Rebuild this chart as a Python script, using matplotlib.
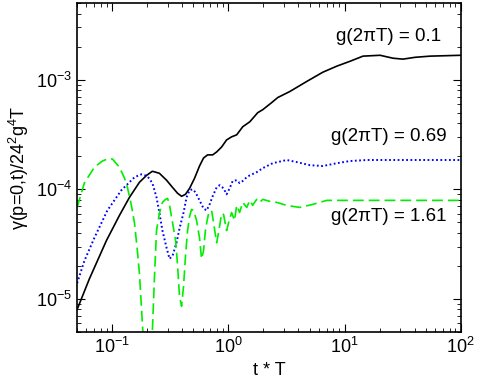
import numpy as np
import matplotlib
matplotlib.use('Agg')
import matplotlib.pyplot as plt

plt.rcParams['font.family'] = ['Liberation Sans', 'DejaVu Sans']
plt.rcParams['mathtext.fontset'] = 'custom'
plt.rcParams['mathtext.rm'] = 'Liberation Sans'
plt.rcParams['mathtext.it'] = 'Liberation Sans'
plt.rcParams['font.size'] = 13

# g(2 pi T) = 0.1  (solid black)
t_a = [0.05, 0.0637, 0.0893, 0.1156, 0.141, 0.172, 0.198, 0.222, 0.255, 0.294,
       0.331, 0.366, 0.396, 0.428, 0.464, 0.512, 0.565, 0.612, 0.663, 0.733,
       0.793, 0.875, 0.966, 1.067, 1.18, 1.33, 1.53, 1.79, 1.98, 2.36,
       2.66, 3.38, 4.73, 6.50, 8.59, 11.1, 14.4, 20.2, 26.1, 31.8,
       40.4, 54.4, 100]
g_a = [8.0e-6, 1.52e-5, 3.40e-5, 5.77e-5, 8.44e-5, 1.16e-4, 1.34e-4, 1.46e-4, 1.40e-4, 1.21e-4,
       1.04e-4, 9.19e-5, 8.63e-5, 9.0e-5, 1.02e-4, 1.26e-4, 1.63e-4, 1.93e-4, 2.06e-4, 2.06e-4,
       2.19e-4, 2.43e-4, 2.82e-4, 3.01e-4, 3.14e-4, 3.72e-4, 4.13e-4, 5.00e-4, 5.33e-4, 6.18e-4,
       6.87e-4, 7.80e-4, 9.64e-4, 1.17e-3, 1.33e-3, 1.47e-3, 1.64e-3, 1.67e-3, 1.57e-3, 1.54e-3,
       1.60e-3, 1.64e-3, 1.67e-3]

# g(2 pi T) = 0.69  (dotted blue)
t_b = [0.05, 0.0577, 0.0704, 0.0910, 0.120, 0.156, 0.179, 0.201, 0.222, 0.241,
       0.255, 0.271, 0.294, 0.312, 0.331, 0.358, 0.380, 0.412, 0.437, 0.464,
       0.492, 0.522, 0.565, 0.612, 0.650, 0.690, 0.733, 0.793, 0.842, 0.910,
       0.966, 1.026, 1.09, 1.18, 1.25, 1.33, 1.44, 1.53, 1.75, 1.98,
       2.41, 3.18, 3.88, 5.02, 6.50, 8.59, 11.1, 15.6, 30.0, 100]
g_b = [1.39e-5, 2.22e-5, 3.61e-5, 6.41e-5, 9.79e-5, 1.29e-4, 1.37e-4, 1.32e-4, 1.14e-4, 8.44e-5,
       6.14e-5, 4.20e-5, 2.93e-5, 2.32e-5, 2.47e-5, 3.25e-5, 4.38e-5, 6.14e-5, 8.44e-5, 9.79e-5,
       1.0e-4, 9.38e-5, 7.92e-5, 6.68e-5, 6.41e-5, 7.28e-5, 8.63e-5, 1.04e-4, 1.09e-4, 1.02e-4,
       9.0e-5, 1.02e-4, 1.19e-4, 1.21e-4, 1.14e-4, 1.19e-4, 1.29e-4, 1.34e-4, 1.43e-4, 1.56e-4,
       1.73e-4, 1.85e-4, 1.77e-4, 1.66e-4, 1.63e-4, 1.73e-4, 1.81e-4, 1.85e-4, 1.85e-4, 1.85e-4]

# g(2 pi T) = 1.61  (dashed green)
t_c = [0.05, 0.0577, 0.0704, 0.0825, 0.0910, 0.1006, 0.1156, 0.128, 0.1355, 0.1466,
       0.156, 0.165, 0.172, 0.179, 0.186, 0.200, 0.214, 0.222, 0.232, 0.241,
       0.255, 0.271, 0.288, 0.300, 0.312, 0.331, 0.352, 0.366, 0.380, 0.396,
       0.412, 0.428, 0.446, 0.464, 0.482, 0.502, 0.533, 0.565, 0.588, 0.612,
       0.637, 0.676, 0.718, 0.746, 0.793, 0.824, 0.875, 0.910, 0.966, 1.006,
       1.067, 1.13, 1.18, 1.25, 1.33, 1.44, 1.53, 1.62, 1.75, 1.86,
       1.98, 2.27, 2.61, 3.18, 4.11, 5.33, 7.03, 15.6, 100]
g_c = [6.83e-5, 1.14e-4, 1.59e-4, 1.81e-4, 1.89e-4, 1.89e-4, 1.59e-4, 1.26e-4, 1.04e-4, 7.13e-5,
       4.87e-5, 2.75e-5, 1.69e-5, 8.2e-6, 4.08e-6, 2.0e-6, 4.08e-6, 5.05e-6, 1.69e-5, 4.20e-5,
       6.01e-5, 7.59e-5, 8.09e-5, 8.26e-5, 7.13e-5, 4.97e-5, 3.40e-5, 2.0e-5, 1.06e-5, 8.57e-6,
       1.31e-5, 2.47e-5, 4.20e-5, 5.65e-5, 6.55e-5, 6.41e-5, 5.19e-5, 3.61e-5, 2.32e-5, 2.75e-5,
       4.38e-5, 6.01e-5, 6.41e-5, 4.97e-5, 3.25e-5, 4.02e-5, 6.01e-5, 5.89e-5, 4.20e-5, 4.97e-5,
       6.14e-5, 5.19e-5, 7.13e-5, 6.14e-5, 7.59e-5, 6.83e-5, 7.92e-5, 7.13e-5, 8.09e-5, 7.59e-5,
       8.09e-5, 7.76e-5, 7.59e-5, 7.13e-5, 6.83e-5, 7.28e-5, 7.92e-5, 7.92e-5, 7.92e-5]

labels = ['g(2\u03c0T) = 0.1', 'g(2\u03c0T) = 0.69', 'g(2\u03c0T) = 1.61']
label_pos = [(24, 2.5e-3), (24, 3.0e-4), (24, 5.6e-5)]

fig = plt.figure(figsize=(4.79, 3.85), dpi=100)
ax = fig.add_axes([0.161, 0.138, 0.801, 0.854])

ax.plot(t_a, g_a, color='black', lw=1.2)
ax.plot(t_b, g_b, color='#0000ff', lw=1.4, linestyle=(0, (0.9, 1.3)))
ax.plot(t_c, g_c, color='#00ee00', lw=1.2, linestyle=(0, (6.5, 3)))

for txt, (x, y) in zip(labels, label_pos):
    ax.text(x, y, txt, ha='center', va='center', fontsize=13.5)

ax.set_xscale('log')
ax.set_yscale('log')
ax.set_xlim(0.05, 100)
ax.set_ylim(5e-6, 5e-3)
ax.set_xlabel('t * T')
ax.set_ylabel('\u03b3(p=0,t)/24$^2$g$^4$T')
ax.tick_params(which='both', direction='in', top=True, right=True)
ax.tick_params(which='major', length=6)
ax.tick_params(which='minor', length=3)
for s in ax.spines.values():
    s.set_linewidth(1.2)

fig.savefig('out.png', dpi=100)
